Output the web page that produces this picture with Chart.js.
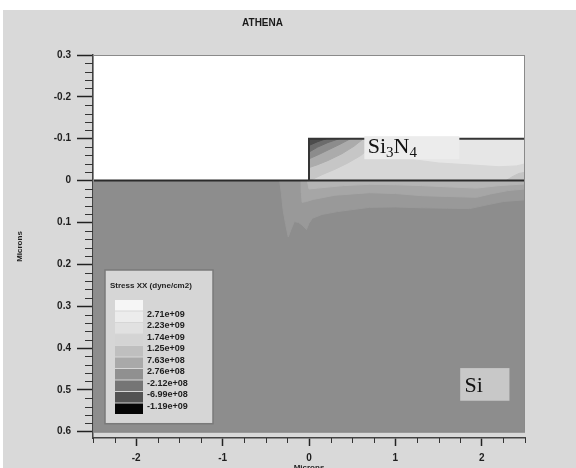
<!DOCTYPE html>
<html>
<head>
<meta charset="utf-8">
<script src="https://cdn.jsdelivr.net/npm/chart.js@4/dist/chart.umd.min.js"></script>
<style>
  html, body { margin: 0; padding: 0; background: #ffffff; }
  #wrap { width: 576px; height: 468px; }
</style>
</head>
<body>
<div id="wrap"><canvas id="stressPlot" width="576" height="468"></canvas></div>
<script>
// Axis ticks (microns)
const xMajorTicks = [-2, -1, 0, 1, 2];
const yMajorTicks = [-0.3, -0.2, -0.1, 0, 0.1, 0.2, 0.3, 0.4, 0.5, 0.6];
const yTickLabels = ['0.3', '-0.2', '-0.1', '0', '0.1', '0.2', '0.3', '0.4', '0.5', '0.6'];

// Stress XX contour key (dyne/cm2)
const stressLevels = ['', '2.71e+09', '2.23e+09', '1.74e+09', '1.25e+09', '7.63e+08',
                      '2.76e+08', '-2.12e+08', '-6.99e+08', '-1.19e+09'];
const levelColors = ['#f6f6f6', '#ececec', '#e1e1e1', '#d4d4d4', '#bfbfbf',
                     '#a9a9a9', '#909090', '#757575', '#535353', '#050505'];

// Material regions, [x, depth] in microns
const airRegion     = [[-2.5, -0.3], [2.5, -0.3], [2.5, 0], [-2.5, 0]];
const siliconRegion = [[-2.5, 0], [2.5, 0], [2.5, 0.6], [-2.5, 0.6]];
const nitrideRegion = [[0, -0.1], [2.5, -0.1], [2.5, 0], [0, 0]];

// Stress contour bands in the silicon under the nitride edge
const siBandC = [[-0.34, 0], [-0.32, 0.03], [-0.3, 0.07], [-0.27, 0.105], [-0.24, 0.135],
                 [-0.21, 0.118], [-0.17, 0.098], [-0.12, 0.1], [-0.07, 0.108], [-0.03, 0.117],
                 [0.0, 0.102], [0.04, 0.09], [0.15, 0.081], [0.33, 0.074], [0.7, 0.064],
                 [1.0, 0.063], [1.3, 0.065], [1.6, 0.066], [1.86, 0.067], [2.06, 0.058],
                 [2.25, 0.05], [2.5, 0.046], [2.5, 0]];
const siBandB = [[-0.09, 0], [-0.088, 0.03], [-0.08, 0.052], [-0.03, 0.05], [0.05, 0.045],
                 [0.3, 0.035], [0.7, 0.029], [1.0, 0.031], [1.3, 0.036], [1.6, 0.038],
                 [1.94, 0.04], [2.1, 0.032], [2.3, 0.024], [2.5, 0.02], [2.5, 0]];
const siBandA = [[-0.02, 0], [0.0, 0.02], [0.1, 0.018], [0.4, 0.012], [0.7, 0.009],
                 [1.0, 0.01], [1.3, 0.012], [1.6, 0.015], [1.94, 0.018], [2.2, 0.012],
                 [2.5, 0.008], [2.5, 0]];

// Stress contour bands inside the nitride (strongest at the film edge corner)
const nitBand1 = [[0, -0.1], [0.95, -0.1], [1.05, -0.07], [1.2, -0.05], [1.5, -0.042],
                  [1.9, -0.037], [2.2, -0.033], [2.4, -0.035], [2.5, -0.04], [2.5, 0], [0, 0]];
const nitBand2 = [[0, -0.1], [0.8, -0.1], [0.72, -0.08], [0.6, -0.06], [0.45, -0.042],
                  [0.3, -0.027], [0.15, -0.014], [0.05, -0.004], [0, 0]];
const nitBand3 = [[0, -0.1], [0.63, -0.1], [0.52, -0.082], [0.38, -0.064], [0.22, -0.048],
                  [0.1, -0.038], [0, -0.031]];
const nitBand4 = [[0, -0.1], [0.48, -0.1], [0.36, -0.087], [0.22, -0.073], [0.1, -0.061],
                  [0, -0.052]];
const nitBand5 = [[0, -0.1], [0.35, -0.1], [0.22, -0.091], [0.1, -0.08], [0, -0.068]];
const nitBand6 = [[0, -0.1], [0.2, -0.1], [0.1, -0.093], [0, -0.084]];
const nitEdgeR = [[2.28, 0], [2.36, -0.01], [2.43, -0.017], [2.5, -0.02], [2.5, 0]];

// Interface lines
const surfaceLine = [[-2.5, 0], [2.5, 0]];
const nitrideEdge = [[0, 0], [0, -0.1], [2.5, -0.1]];
const plotFrame   = [[-2.5, -0.3], [2.5, -0.3], [2.5, 0.6], [-2.5, 0.6]];

function toPoints(pts, closed) {
  const out = pts.map(([x, y]) => ({ x, y }));
  if (closed) out.push({ x: pts[0][0], y: pts[0][1] });
  return out;
}

const filledRegions = [
  [airRegion, '#ffffff'],
  [siliconRegion, '#8d8d8d'],
  [siBandC, '#999999'],
  [siBandB, '#a6a6a6'],
  [siBandA, '#b4b4b4'],
  [nitrideRegion, '#e6e6e6'],
  [nitBand1, '#d7d7d7'],
  [nitEdgeR, '#c4c4c4'],
  [nitBand2, '#c6c6c6'],
  [nitBand3, '#ababab'],
  [nitBand4, '#8c8c8c'],
  [nitBand5, '#6c6c6c'],
  [nitBand6, '#4c4c4c']
];

const datasets = filledRegions.map(([pts, color], i) => ({
  data: toPoints(pts, true),
  showLine: true,
  fill: 'shape',
  backgroundColor: color,
  borderColor: color,
  borderWidth: 1,
  pointRadius: 0,
  tension: 0,
  order: 100 - i
}));

datasets.push(
  { data: toPoints(surfaceLine), showLine: true, fill: false, borderColor: '#2b2b2b',
    borderWidth: 2, pointRadius: 0, order: 2 },
  { data: toPoints(nitrideEdge), showLine: true, fill: false, borderColor: '#353535',
    borderWidth: 2, pointRadius: 0, order: 1 },
  { data: toPoints(plotFrame, true), showLine: true, fill: false, borderColor: '#8a8a8a',
    borderWidth: 2, pointRadius: 0, order: 0 }
);

const SANS = '"Liberation Sans", Arial, sans-serif';
const SERIF = '"Liberation Serif", "Times New Roman", serif';

// Grey page with a thin white margin at top and left
const pageBackground = {
  id: 'pageBackground',
  beforeDraw(chart) {
    const { ctx, width, height } = chart;
    ctx.save();
    ctx.fillStyle = '#ffffff';
    ctx.fillRect(0, 0, width, height);
    ctx.fillStyle = '#d9d9d9';
    ctx.fillRect(3, 10, width - 3, height - 10);
    ctx.restore();
  }
};

// Short unlabelled ticks between the labelled ones
const minorTicks = {
  id: 'minorTicks',
  afterDraw(chart) {
    const { ctx, chartArea: ca, scales: { x, y } } = chart;
    ctx.save();
    ctx.strokeStyle = '#333333';
    ctx.lineWidth = 1;
    ctx.beginPath();
    for (let k = 0; k <= 45; k++) {
      if (k % 5 === 0) continue;
      const py = Math.round(y.getPixelForValue(-0.3 + k * 0.02)) + 0.5;
      ctx.moveTo(ca.left - 8, py);
      ctx.lineTo(ca.left, py);
    }
    for (let k = 0; k <= 20; k++) {
      if (k % 4 === 2) continue;
      const px = Math.round(x.getPixelForValue(-2.5 + k * 0.25)) + 0.5;
      ctx.moveTo(px, ca.bottom);
      ctx.lineTo(px, ca.bottom + 5);
    }
    ctx.stroke();
    ctx.restore();
  }
};

// Material name tags
const materialTags = {
  id: 'materialTags',
  afterDatasetsDraw(chart) {
    const { ctx, scales: { x, y } } = chart;
    ctx.save();
    const box = (x0, y0, x1, y1, color) => {
      const a = x.getPixelForValue(x0), b = y.getPixelForValue(y0);
      const c = x.getPixelForValue(x1), d = y.getPixelForValue(y1);
      ctx.fillStyle = color;
      ctx.fillRect(a, b, c - a, d - b);
    };
    box(0.64, -0.106, 1.74, -0.051, '#ececec');
    box(1.75, 0.448, 2.32, 0.526, '#c8c8c8');

    ctx.fillStyle = '#111111';
    ctx.textBaseline = 'alphabetic';
    ctx.textAlign = 'left';
    // Si3N4 with subscripts
    let px = x.getPixelForValue(0.68);
    const base = y.getPixelForValue(-0.066);
    const parts = [['Si', 0], ['3', 1], ['N', 0], ['4', 1]];
    for (const [t, sub] of parts) {
      ctx.font = sub ? '15px ' + SERIF : '22px ' + SERIF;
      ctx.fillText(t, px, base + (sub ? 4 : 0));
      px += ctx.measureText(t).width;
    }
    ctx.font = '22px ' + SERIF;
    ctx.fillText('Si', x.getPixelForValue(1.8), y.getPixelForValue(0.505));
    ctx.restore();
  }
};

// Contour level key in the lower-left of the plot
const stressKey = {
  id: 'stressKey',
  afterDatasetsDraw(chart) {
    const { ctx, chartArea: ca, scales: { y } } = chart;
    const left = ca.left + 12, top = 270, w = 108;
    const bottom = y.getPixelForValue(0.6) - 8;
    ctx.save();
    ctx.fillStyle = '#d6d6d6';
    ctx.fillRect(left, top, w, bottom - top);
    ctx.strokeStyle = '#7a7a7a';
    ctx.lineWidth = 1.5;
    ctx.strokeRect(left, top, w, bottom - top);
    ctx.fillStyle = '#1e1e1e';
    ctx.textAlign = 'left';
    ctx.textBaseline = 'middle';
    ctx.font = 'bold 8px ' + SANS;
    ctx.fillText('Stress XX (dyne/cm2)', left + 5, top + 16);
    const sx = left + 10, sy = top + 30, sw = 28, sh = 11.5;
    levelColors.forEach((c, i) => {
      ctx.fillStyle = c;
      ctx.fillRect(sx, sy + i * sh, sw, sh - 1);
    });
    ctx.fillStyle = '#1e1e1e';
    ctx.font = 'bold 9px ' + SANS;
    stressLevels.forEach((t, i) => {
      if (t) ctx.fillText(t, sx + sw + 4, sy + i * sh + 3);
    });
    ctx.restore();
  }
};

new Chart(document.getElementById('stressPlot'), {
  type: 'scatter',
  data: { datasets },
  plugins: [pageBackground, materialTags, stressKey, minorTicks],
  options: {
    responsive: false,
    animation: false,
    events: [],
    layout: { padding: { top: 10, left: 0, right: 51, bottom: 0 } },
    plugins: {
      legend: { display: false },
      tooltip: { enabled: false },
      title: {
        display: true,
        text: 'ATHENA',
        color: '#1a1a1a',
        font: { family: SANS, size: 10, weight: 'bold' },
        padding: { top: 7, bottom: 26 }
      }
    },
    scales: {
      x: {
        type: 'linear',
        min: -2.5,
        max: 2.5,
        z: 1,
        afterBuildTicks: s => { s.ticks = xMajorTicks.map(v => ({ value: v })); },
        afterFit: s => { s.height = 30; },
        grid: { drawOnChartArea: false, tickLength: 8, tickWidth: 1.5, tickColor: '#222222' },
        border: { display: true, color: '#444444', width: 1.5 },
        ticks: { autoSkip: false, maxRotation: 0, padding: 6, color: '#1e1e1e',
                 font: { family: SANS, size: 10, weight: 'bold' } },
        title: { display: true, text: 'Microns', color: '#1e1e1e',
                 font: { family: SANS, size: 8, weight: 'bold' },
                 padding: { top: 0, bottom: -5 } }
      },
      y: {
        type: 'linear',
        reverse: true,
        min: -0.3,
        max: 0.615,
        z: 1,
        afterBuildTicks: s => { s.ticks = yMajorTicks.map(v => ({ value: v })); },
        afterFit: s => { s.width = 93; },
        grid: { drawOnChartArea: false, tickLength: 16, tickWidth: 1.5, tickColor: '#222222' },
        border: { display: true, color: '#444444', width: 1.5 },
        ticks: { autoSkip: false, padding: 6, color: '#1e1e1e',
                 font: { family: SANS, size: 10, weight: 'bold' },
                 callback: (v, i) => yTickLabels[i] },
        title: { display: true, text: 'Microns', color: '#1e1e1e',
                 font: { family: SANS, size: 8, weight: 'bold' },
                 padding: { top: 15, bottom: 0 } }
      }
    }
  }
});
</script>
</body>
</html>
